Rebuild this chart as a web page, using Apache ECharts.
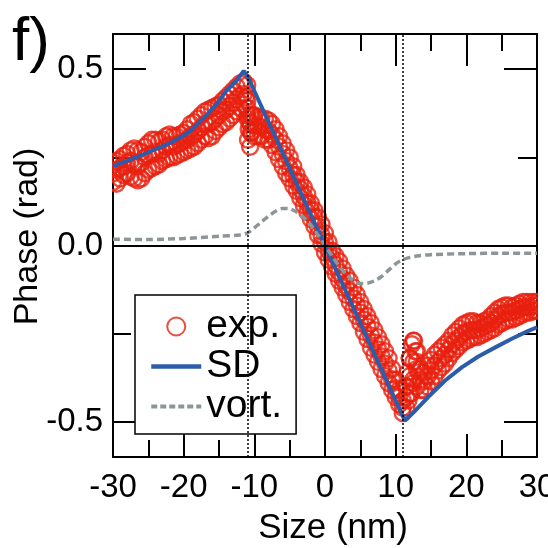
<!DOCTYPE html>
<html><head><meta charset="utf-8">
<script src="https://cdn.jsdelivr.net/npm/echarts@6.0.0/dist/echarts.min.js"></script>
<style>html,body{margin:0;padding:0;background:#fff}#c{width:548px;height:548px}</style>
</head><body><div id="c"></div>
<script>
// ---- data ----
const xTickValues = [-30, -20, -10, 0, 10, 20, 30];
const yMajorTicks = [-0.5, 0, 0.5];
const yMinorTicks = [-0.25, 0.25];
const guideDottedX = [-11, 11];

// experimental points (band of circles): x, upper, middle and lower rows
const expX = [-30,-29.5,-29,-28.5,-28,-27.5,-27,-26.5,-26,-25.5,-25,-24.5,-24,-23.5,-23,-22.5,-22,-21.5,-21,-20.5,-20,-19.5,-19,-18.5,-18,-17.5,-17,-16.5,-16,-15.5,-15,-14.5,-14,-13.5,-13,-12.5,-12,-11.5,
 -11,-10.5,-10,-9.5,-9,-8.5,-8,-7.5,-7,-6.5,-6,-5.5,-5,-4.5,-4,-3.5,-3,-2.5,-2,-1.5,-1,-0.5,0,0.5,1,1.5,2,2.5,3,3.5,4,4.5,5,5.5,6,6.5,7,7.5,8,8.5,9,9.5,10,10.5,11,
 11.5,12,12.5,13,13.5,14,14.5,15,15.5,16,16.5,17,17.5,18,18.5,19,19.5,20,20.5,21,21.5,22,22.5,23,23.5,24,24.5,25,25.5,26,26.5,27,27.5,28,28.5,29,29.5,30];
const expHi = [0.235,0.24,0.245,0.255,0.26,0.27,0.275,0.27,0.265,0.28,0.29,0.30,0.30,0.295,0.30,0.31,0.315,0.31,0.31,0.315,0.32,0.33,0.345,0.35,0.36,0.37,0.38,0.385,0.39,0.395,0.40,0.41,0.42,0.43,0.44,0.45,0.46,0.465,
 0.455,0.37,0.37,0.365,0.36,0.36,0.355,0.345,0.33,0.31,0.29,0.27,0.25,0.225,0.20,0.18,0.165,0.145,0.12,0.10,0.08,0.06,0.035,0.01,-0.015,-0.03,-0.045,-0.065,-0.085,-0.10,-0.12,-0.14,-0.16,-0.18,-0.20,-0.22,-0.24,-0.26,-0.28,-0.30,-0.32,-0.35,-0.38,-0.41,-0.44,
 -0.40,-0.32,-0.27,-0.30,-0.35,-0.36,-0.34,-0.325,-0.31,-0.30,-0.29,-0.28,-0.27,-0.255,-0.245,-0.235,-0.225,-0.22,-0.215,-0.215,-0.22,-0.22,-0.215,-0.21,-0.20,-0.19,-0.18,-0.175,-0.17,-0.17,-0.175,-0.17,-0.165,-0.16,-0.16,-0.16,-0.16,-0.16];
const expMid = [0.205,0.215,0.22,0.225,0.235,0.24,0.23,0.225,0.235,0.25,0.255,0.26,0.265,0.26,0.27,0.28,0.285,0.28,0.285,0.29,0.295,0.30,0.31,0.315,0.325,0.335,0.345,0.345,0.35,0.36,0.37,0.38,0.385,0.395,0.405,0.415,0.425,0.43,
 0.41,0.345,0.34,0.34,0.335,0.33,0.325,0.315,0.30,0.28,0.26,0.24,0.22,0.20,0.18,0.16,0.14,0.12,0.10,0.08,0.055,0.03,0.01,-0.015,-0.035,-0.055,-0.075,-0.095,-0.115,-0.13,-0.15,-0.17,-0.19,-0.21,-0.23,-0.255,-0.275,-0.295,-0.315,-0.335,-0.355,-0.38,-0.405,-0.43,-0.46,
 -0.43,-0.37,-0.33,-0.35,-0.38,-0.385,-0.37,-0.355,-0.34,-0.33,-0.32,-0.31,-0.295,-0.28,-0.27,-0.26,-0.25,-0.245,-0.24,-0.24,-0.24,-0.235,-0.23,-0.225,-0.22,-0.21,-0.20,-0.195,-0.19,-0.19,-0.19,-0.185,-0.18,-0.175,-0.175,-0.175,-0.17,-0.17];
const expLo = [0.18,0.175,0.19,0.20,0.205,0.195,0.19,0.185,0.19,0.205,0.215,0.22,0.225,0.23,0.24,0.245,0.25,0.25,0.255,0.26,0.265,0.27,0.275,0.28,0.29,0.30,0.31,0.305,0.31,0.325,0.335,0.345,0.35,0.36,0.37,0.38,0.39,0.40,
 0.37,0.32,0.31,0.31,0.31,0.30,0.30,0.285,0.265,0.245,0.225,0.205,0.19,0.17,0.155,0.135,0.115,0.095,0.075,0.055,0.03,0.005,-0.02,-0.04,-0.06,-0.08,-0.10,-0.12,-0.14,-0.16,-0.18,-0.20,-0.22,-0.245,-0.265,-0.29,-0.31,-0.33,-0.35,-0.37,-0.39,-0.41,-0.43,-0.45,-0.475,
 -0.46,-0.42,-0.39,-0.40,-0.41,-0.41,-0.40,-0.385,-0.37,-0.355,-0.345,-0.335,-0.32,-0.305,-0.295,-0.285,-0.275,-0.27,-0.265,-0.26,-0.26,-0.255,-0.25,-0.245,-0.24,-0.235,-0.225,-0.22,-0.215,-0.21,-0.21,-0.205,-0.20,-0.195,-0.19,-0.19,-0.185,-0.185];
// scattered circles near the two edges
const expExtraX = [-11.2,-11,-11,-10.8,-10.9,-10.6,-10.4,-10.7,-10.3, 11.5,11.7,12,12.3,12.6,12.8,13,12.5,12.2,13.3,11.8];
const expExtraY = [0.42,0.39,0.36,0.33,0.30,0.28,0.32,0.35,0.37, -0.40,-0.36,-0.32,-0.28,-0.27,-0.30,-0.33,-0.38,-0.42,-0.36,-0.44];

// SD model curve
const sdX = [-30,-28,-26,-24,-22,-20,-19,-18,-16.5,-15,-14,-12.5,-11.5,-10.9,11.3,12.8,14.6,17,19.4,21.7,24.1,26.5,28.7,30];
const sdY = [0.225,0.24,0.256,0.273,0.29,0.312,0.325,0.345,0.375,0.41,0.438,0.468,0.495,0.478,-0.497,-0.468,-0.43,-0.383,-0.345,-0.315,-0.289,-0.264,-0.243,-0.232];

// vortex model curve
const vX = [-30,-25,-20,-15,-12,-11,-10,-9,-8,-7,-6,-5,-4,-3,-2,-1,0,1,2,3,4,5,6,7,8,9,10,11,12,13,15,20,25,30];
const vY = [0.018,0.017,0.02,0.026,0.03,0.035,0.05,0.067,0.083,0.097,0.105,0.104,0.095,0.079,0.058,0.03,0.0,-0.03,-0.058,-0.082,-0.1,-0.108,-0.107,-0.1,-0.088,-0.07,-0.052,-0.04,-0.034,-0.03,-0.026,-0.023,-0.022,-0.022];

// ---- chart ----
const FONT = '"Liberation Sans", Arial, Helvetica, sans-serif';
const RED = '#e8200f', BLUE = '#2d5caa', GREY = '#8c9698';
const expData = [];
for (let i = 0; i < expX.length; i++) {
  expData.push([expX[i], expHi[i]], [expX[i], expMid[i]], [expX[i], expLo[i]]);
}
for (let i = 0; i < expExtraX.length; i++) expData.push([expExtraX[i], expExtraY[i]]);
const sdData = sdX.map((x, i) => [x, sdY[i]]);
const vData = vX.map((x, i) => [x, vY[i]]);

const black = '#000';
const axisLineStyle = {show: true, onZero: false, lineStyle: {color: black, width: 2}};
const noAxisLine = {show: false, onZero: false};
function xAxisDef(pos, major, showLabel) {
  return {
    type: 'value', gridIndex: 0, position: pos, min: xTickValues[0], max: xTickValues[xTickValues.length - 1], interval: 10,
    axisLine: axisLineStyle,
    axisTick: {show: true, inside: true, length: major, lineStyle: {color: black, width: 2}},
    minorTick: {show: true, splitNumber: 2, length: 17, lineStyle: {color: black, width: 2}},
    splitLine: {show: false}, minorSplitLine: {show: false},
    axisLabel: {show: showLabel, fontSize: 33, color: black, fontFamily: FONT, margin: 14}
  };
}
function yAxisDef(grid, pos, ticks, len, showLine, showLabel) {
  return {
    type: 'value', gridIndex: grid, position: pos, min: -0.6, max: 0.6,
    axisLine: showLine ? axisLineStyle : noAxisLine,
    axisTick: {show: true, inside: true, length: len, customValues: ticks, lineStyle: {color: black, width: 2}},
    splitLine: {show: false},
    axisLabel: {show: showLabel, customValues: yMajorTicks, formatter: v => Number(v).toFixed(1),
      fontSize: 33, color: black, fontFamily: FONT, margin: 10}
  };
}
const xb = xAxisDef('bottom', 23, true);
xb.name = 'Size (nm)'; xb.nameLocation = 'middle'; xb.nameGap = 54;
xb.nameTextStyle = {fontSize: 35, color: black, fontFamily: FONT, padding: [0, 0, 0, 16]};
const yl = yAxisDef(0, 'left', yMajorTicks, 33, true, true);
yl.name = 'Phase (rad)'; yl.nameLocation = 'middle'; yl.nameGap = 68; yl.nameMoveOverlap = false;
yl.nameTextStyle = {fontSize: 34, color: black, fontFamily: FONT, padding: [0, 0, 0, 18]};

const hiddenSymbol = {color: 'rgba(0,0,0,0)', borderWidth: 0, opacity: 0};
const GRID = {left: 113, top: 34, width: 424, height: 423};
const gridBase = {containLabel: false, outerBoundsMode: 'none'};
const option = {
  animation: false,
  backgroundColor: '#fff',
  grid: [Object.assign({}, gridBase, GRID), Object.assign({}, gridBase, GRID)],
  xAxis: [xb, xAxisDef('top', 32, false),
          {type: 'value', gridIndex: 1, show: false, min: xTickValues[0], max: xTickValues[xTickValues.length - 1]}],
  yAxis: [yl, yAxisDef(0, 'right', yMajorTicks, 33, true, false),
          yAxisDef(1, 'left', yMinorTicks, 18, false, false), yAxisDef(1, 'right', yMinorTicks, 19, false, false)],
  legend: {
    data: [
      {name: 'exp.'},
      {name: 'SD', itemStyle: hiddenSymbol, lineStyle: {color: BLUE, width: 4.5, type: 'solid'}},
      {name: 'vort.', itemStyle: hiddenSymbol, lineStyle: {color: GREY, width: 4, type: [6, 3]}}
    ],
    orient: 'vertical', left: 135, top: 295,
    itemWidth: 50, itemHeight: 18, itemGap: 1, padding: [12, 14, 8, 14],
    backgroundColor: '#fff', borderColor: black, borderWidth: 1.5, selectedMode: false,
    textStyle: {fontSize: 39, color: black, fontFamily: FONT, lineHeight: 38}
  },
  graphic: [
    {type: 'text', left: 12, top: 12, style: {text: 'f)', fontSize: 62, fontFamily: FONT, fill: black}},
    // white margins so that circles are cut at the plot frame, as in the original
    {type: 'rect', z: 10, silent: true, shape: {x: GRID.left - 20, y: 130, width: 19, height: 90}, style: {fill: '#fff'}},
    {type: 'rect', z: 10, silent: true, shape: {x: GRID.left + GRID.width + 1, y: 270, width: 20, height: 90}, style: {fill: '#fff'}}
  ],
  series: [
    {
      name: 'guides', type: 'line', data: [], silent: true,
      markLine: {
        silent: true, symbol: ['none', 'none'], label: {show: false}, animation: false,
        emphasis: {disabled: true},
        data: [
          {xAxis: 0, lineStyle: {color: black, width: 2, type: 'solid'}},
          {yAxis: 0, lineStyle: {color: black, width: 2, type: 'solid'}},
          ...guideDottedX.map(v => ({xAxis: v, lineStyle: {color: black, width: 1.5, type: [2, 2]}}))
        ]
      }
    },
    {
      name: 'exp.', type: 'scatter', data: expData, symbol: 'circle', symbolSize: 16,
      itemStyle: {color: 'rgba(255,255,255,0)', borderColor: RED, borderWidth: 2.4},
      emphasis: {disabled: true}
    },
    {
      name: 'SD', type: 'line', data: sdData, symbol: 'none',
      lineStyle: {color: BLUE, width: 4}, itemStyle: {color: BLUE}
    },
    {
      name: 'vort.', type: 'line', data: vData, symbol: 'none', smooth: 0.3,
      lineStyle: {color: GREY, width: 3.5, type: [7, 4]}, itemStyle: {color: GREY}
    }
  ]
};
const chart = echarts.init(document.getElementById('c'), null, {renderer: 'canvas'});
chart.setOption(option);
</script>
</body></html>
